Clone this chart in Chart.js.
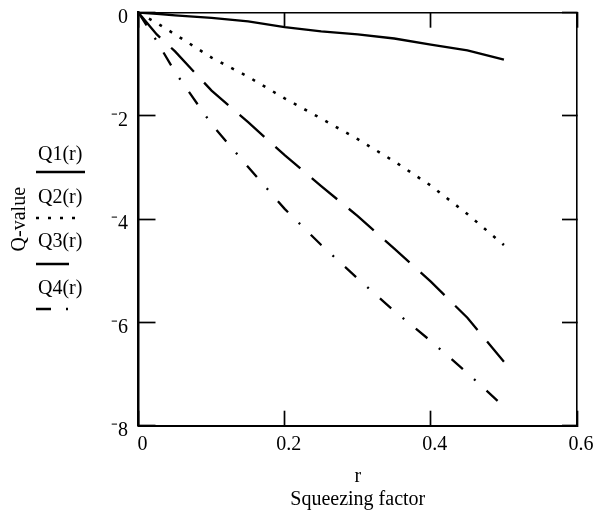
<!DOCTYPE html>
<html><head><meta charset="utf-8">
<script src="https://cdn.jsdelivr.net/npm/chart.js@4.4.0/dist/chart.umd.min.js"></script>
<style>html,body{margin:0;padding:0;background:#fff;} #wrap{width:598px;height:515px;}</style>
</head><body><div id="wrap"><canvas id="c" width="598" height="515"></canvas></div>
<script>
// ---- data ----
const r  = [0, 0.025, 0.05, 0.1, 0.15, 0.2, 0.25, 0.3, 0.35, 0.4, 0.45, 0.5];
const q1 = [0, -0.02, -0.05, -0.10, -0.17, -0.28, -0.36, -0.42, -0.50, -0.62, -0.73, -0.91];
const q2 = [0, -0.20, -0.42, -0.87, -1.24, -1.66, -2.05, -2.45, -2.88, -3.35, -3.90, -4.50];
const q3 = [0, -0.42, -0.75, -1.51, -2.12, -2.76, -3.36, -3.94, -4.57, -5.21, -5.91, -6.76];
const q4 = [0, -0.55, -1.15, -2.16, -2.99, -3.80, -4.50, -5.15, -5.78, -6.36, -6.98, -7.63];
const seriesNames = ['Q1(r)', 'Q2(r)', 'Q3(r)', 'Q4(r)'];
const xTickValues = [0, 0.2, 0.4, 0.6];
const xTickLabels = ['0', '0.2', '0.4', '0.6'];
const yTickValues = [0, -2, -4, -6, -8];
const yTickLabels = ['0', '\u207B2', '\u207B4', '\u207B6', '\u207B8'];
const xTitle = ['r', 'Squeezing factor'];
const yTitle = 'Q-value';

const FONT = '"Liberation Serif", "Times New Roman", serif';
Chart.defaults.font.family = FONT;
Chart.defaults.color = '#000';

const seriesValues = [q1, q2, q3, q4];
const dashes = [[], [3, 9], [33, 15], [15, 15, 2, 15]];
const widths = [2.3, 2.6, 2.3, 2.3];

const datasets = seriesValues.map((vals, i) => ({
  label: seriesNames[i],
  data: r.map((x, k) => ({x: x, y: vals[k]})),
  borderColor: '#000',
  borderWidth: widths[i],
  borderDash: dashes[i],
  pointRadius: 0,
  tension: 0,
  fill: false,
  xAxisID: 'x',
  yAxisID: 'y'
}));

const legendPlugin = {
  id: 'mcdLegend',
  afterDraw(chart) {
    const ctx = chart.ctx;
    const textY = [155, 198, 242, 289];
    const lineY = [172, 218, 264, 309];
    const lineEnd = [85, 75, 69, 69];
    ctx.save();
    chart.data.datasets.forEach((ds, i) => {
      ctx.fillStyle = '#000';
      ctx.font = '20px ' + FONT;
      ctx.textAlign = 'left';
      ctx.textBaseline = 'middle';
      ctx.fillText(ds.label, 38, textY[i]);
      ctx.beginPath();
      ctx.setLineDash(ds.borderDash || []);
      ctx.lineWidth = ds.borderWidth;
      ctx.strokeStyle = ds.borderColor;
      ctx.moveTo(36, lineY[i]);
      ctx.lineTo(lineEnd[i], lineY[i]);
      ctx.stroke();
    });
    ctx.restore();
  }
};

const TOP = 12.7, BOTTOM = 425.7, LEFT = 138.5, RIGHT = 577;
const noPad = s => { s.paddingTop = 0; s.paddingBottom = 0; s.paddingLeft = 0; s.paddingRight = 0; };

new Chart(document.getElementById('c'), {
  type: 'line',
  data: {datasets},
  plugins: [legendPlugin],
  options: {
    responsive: false,
    animation: false,
    devicePixelRatio: 1,
    layout: {padding: {left: 0, right: 598 - RIGHT, top: TOP, bottom: 0}},
    plugins: {legend: {display: false}, tooltip: {enabled: false}},
    scales: {
      x: {
        type: 'linear', position: 'bottom', min: 0, max: 0.6,
        afterBuildTicks: s => { s.ticks = xTickValues.map(v => ({value: v})); },
        ticks: {
          padding: 22, labelOffset: 4, maxRotation: 0, autoSkip: false,
          font: {size: 20},
          callback: v => { const i = xTickValues.findIndex(t => Math.abs(t - v) < 1e-9); return i >= 0 ? xTickLabels[i] : ''; }
        },
        grid: {drawOnChartArea: false, drawTicks: true, tickLength: -15, tickWidth: 1.7, tickColor: '#000'},
        border: {display: true, color: '#000', width: 2},
        title: {display: true, text: xTitle, font: {size: 20, lineHeight: 1.15}, padding: {top: 4, bottom: 3.5}, color: '#000'},
        afterFit: s => { s.height = 515 - BOTTOM; noPad(s); }
      },
      x2: {
        type: 'linear', position: 'top', min: 0, max: 0.6,
        afterBuildTicks: s => { s.ticks = xTickValues.map(v => ({value: v})); },
        ticks: {display: false},
        grid: {drawOnChartArea: false, drawTicks: true, tickLength: -15, tickWidth: 1.7, tickColor: '#000'},
        border: {display: true, color: '#000', width: 1.6},
        afterFit: s => { s.height = 0; noPad(s); }
      },
      y: {
        type: 'linear', position: 'left', min: -8, max: 0,
        afterBuildTicks: s => { s.ticks = yTickValues.slice().reverse().map(v => ({value: v})); },
        ticks: {
          padding: 27.5, labelOffset: 5, autoSkip: false,
          font: {size: 20},
          callback: v => { const i = yTickValues.findIndex(t => Math.abs(t - v) < 1e-9); return i >= 0 ? yTickLabels[i] : ''; }
        },
        grid: {drawOnChartArea: false, drawTicks: true, tickLength: -17, tickWidth: 1.7, tickColor: '#000'},
        border: {display: true, color: '#000', width: 2.5},
        title: {display: true, text: yTitle, font: {size: 20, lineHeight: 1.2}, padding: {top: 8, bottom: 0}, color: '#000'},
        afterFit: s => { s.width = LEFT; noPad(s); }
      },
      y2: {
        type: 'linear', position: 'right', min: -8, max: 0,
        afterBuildTicks: s => { s.ticks = yTickValues.slice().reverse().map(v => ({value: v})); },
        ticks: {display: false},
        grid: {drawOnChartArea: false, drawTicks: true, tickLength: -15, tickWidth: 1.7, tickColor: '#000'},
        border: {display: true, color: '#000', width: 1.6},
        afterFit: s => { s.width = 0; noPad(s); }
      }
    }
  }
});
</script>
</body></html>
